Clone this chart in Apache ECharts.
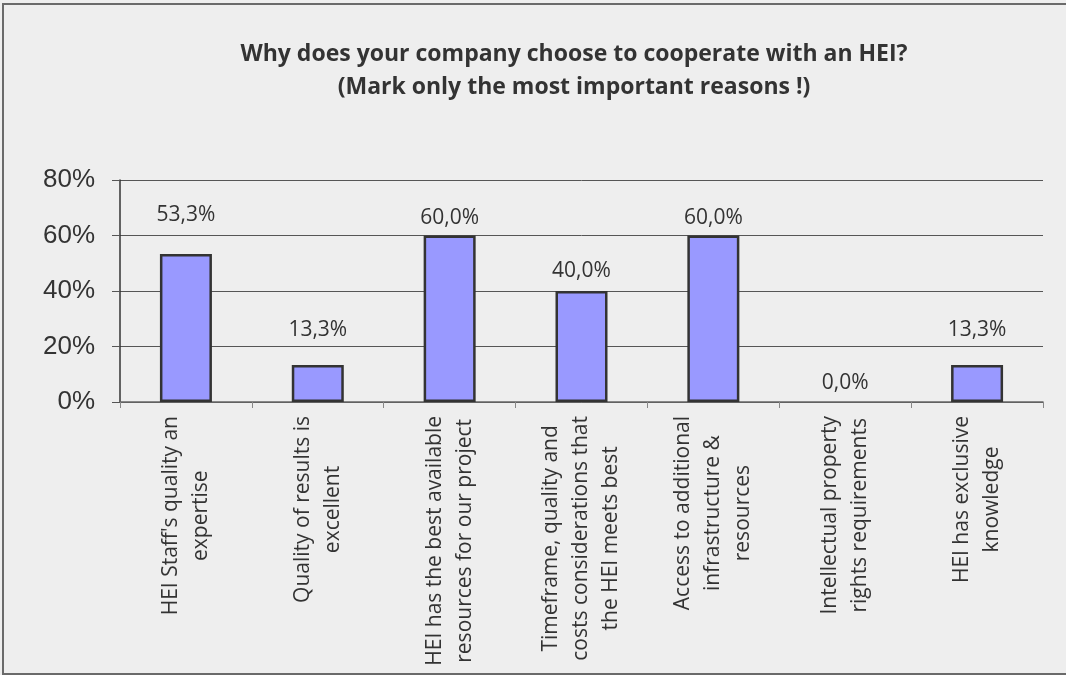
<!DOCTYPE html>
<html>
<head>
<meta charset="utf-8">
<style>
  html, body { margin: 0; padding: 0; background: #eeeeee; }
  #chart { width: 1066px; height: 675px; }
</style>
<script src="https://cdn.jsdelivr.net/npm/echarts@6/dist/echarts.min.js"></script>
</head>
<body>
<div id="chart"></div>
<script>
// Reasons for company–HEI cooperation (share of respondents)
const categories = [
  ["HEI Staff's quality an", "expertise"],
  ["Quality of results is", "excellent"],
  ["HEI has the best available", "resources for our project"],
  ["Timeframe, quality and", "costs considerations that", "the HEI meets best"],
  ["Access to additional", "infrastructure &", "resources"],
  ["Intellectual property", "rights requirements"],
  ["HEI has exclusive", "knowledge"]
];
const shares = [53.3, 13.3, 60.0, 40.0, 60.0, 0.0, 13.3];
const yTicks = [0, 20, 40, 60, 80];

// gap between each bar top and its value label (px)
const labelGap = [29, 25, 7, 9, 7, 8, 25];

const TEXT = '#333333';
const chart = echarts.init(document.getElementById('chart'), null, { renderer: 'canvas' });

chart.setOption({
  backgroundColor: '#eeeeee',
  animation: false,
  title: {
    text: 'Why does your company choose to cooperate with an HEI?\n(Mark only the most important reasons !)',
    left: 569,
    top: 33,
    textAlign: 'center',
    textStyle: {
      fontFamily: 'Open Sans',
      fontWeight: 'bold',
      fontSize: 23,
      lineHeight: 33,
      color: TEXT
    }
  },
  graphic: [{
    type: 'rect',
    shape: { x: 3, y: 4, width: 1080, height: 670 },
    style: { fill: 'none', stroke: '#6a6a6a', lineWidth: 2 },
    silent: true
  }],
  grid: { left: 120, right: 23, top: 180, bottom: 273, containLabel: false },
  xAxis: {
    type: 'category',
    data: categories.map(c => c.join('\n')),
    boundaryGap: true,
    axisLine: { show: true, lineStyle: { color: '#666666', width: 1.5 } },
    axisTick: { show: true, alignWithLabel: false, length: 6, lineStyle: { color: '#888888' } },
    axisLabel: {
      interval: 0,
      rotate: 90,
      margin: 14,
      formatter: v => v.split('\n').map(l => '{c|' + l + '}').join('\n'),
      rich: {
        c: {
          align: 'center',
          fontFamily: 'Open Sans',
          fontSize: 21,
          lineHeight: 30,
          color: TEXT
        }
      }
    }
  },
  yAxis: {
    type: 'value',
    min: yTicks[0],
    max: yTicks[yTicks.length - 1],
    interval: yTicks[1] - yTicks[0],
    axisLine: { show: true, lineStyle: { color: '#333333', width: 1.5 } },
    axisTick: { show: true, length: 8, lineStyle: { color: '#555555' } },
    splitLine: { show: true, lineStyle: { color: '#555555', width: 1 } },
    axisLabel: {
      margin: 25,
      fontFamily: 'Liberation Sans',
      fontSize: 26,
      color: TEXT,
      formatter: v => v + '%'
    }
  },
  series: [{
    type: 'bar',
    barWidth: 52,
    data: shares.map((v, i) => ({
      value: v,
      label: { distance: labelGap[i] },
      itemStyle: v === 0 ? { borderWidth: 0 } : undefined
    })),
    itemStyle: {
      color: '#9999ff',
      borderColor: '#333333',
      borderWidth: 2.5
    },
    label: {
      show: true,
      position: 'top',
      fontFamily: 'Open Sans',
      fontSize: 21,
      color: TEXT,
      formatter: p => p.value.toFixed(1).replace('.', ',') + '%'
    }
  }]
});
</script>
</body>
</html>
